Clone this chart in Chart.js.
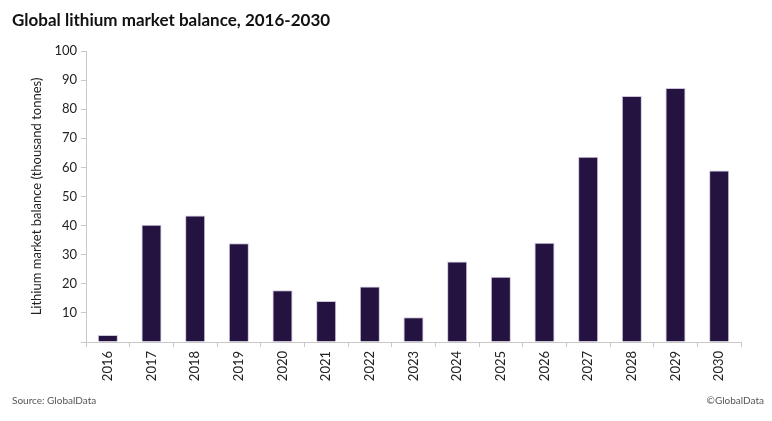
<!DOCTYPE html>
<html>
<head>
<meta charset="utf-8">
<script src="https://cdn.jsdelivr.net/npm/chart.js@4.4.1/dist/chart.umd.min.js"></script>
<style>
  body { margin: 0; background: #fff; }
  #wrap { position: relative; width: 772px; height: 421px; }
  #title { position: absolute; left: 12px; top: 9px; font: bold 17px Lato, "Open Sans", sans-serif; color: #111; }
  .note { position: absolute; top: 394px; font: 10px Lato, "Open Sans", sans-serif; color: #555; }
  canvas { position: absolute; left: 0; top: 0; }
</style>
</head>
<body>
<div id="wrap">
  <canvas id="chart" width="772" height="421"></canvas>
  <div id="title">Global lithium market balance, 2016-2030</div>
  <div class="note" style="left:12px">Source: GlobalData</div>
  <div class="note" style="right:8px">©GlobalData</div>
</div>
<script>
// years on the x axis
const years = ['2016','2017','2018','2019','2020','2021','2022','2023','2024','2025','2026','2027','2028','2029','2030'];
// market balance, thousand tonnes
const balance = [2.4, 40.3, 43.5, 33.9, 17.8, 14.1, 19.1, 8.5, 27.7, 22.4, 34.1, 63.7, 84.5, 87.3, 58.9];
const yTicks = [10, 20, 30, 40, 50, 60, 70, 80, 90, 100];

const axisFont = { family: 'Lato, "Open Sans", sans-serif', size: 13 };

new Chart(document.getElementById('chart'), {
    type: 'bar',
    data: {
        labels: years,
        datasets: [{
            data: balance,
            backgroundColor: '#241340',
            borderColor: '#cfc6dc',
            borderWidth: 1,
            categoryPercentage: 1,
            barPercentage: 0.46
        }]
    },
    options: {
        responsive: false,
        animation: false,
        layout: { padding: { left: 25, top: 51, right: 31, bottom: 34 } },
        plugins: { legend: { display: false }, tooltip: { enabled: false } },
        scales: {
            x: {
                grid: { drawOnChartArea: false, drawTicks: true, tickLength: 5, color: '#c8c8c8' },
                border: { color: '#c8c8c8' },
                ticks: { minRotation: 90, maxRotation: 90, color: '#222', font: axisFont, padding: 4 },
                afterFit: function(scale) { scale.height = 45; }
            },
            y: {
                min: 0,
                max: 100,
                afterBuildTicks: function(scale) { scale.ticks = [0].concat(yTicks).map(v => ({ value: v })); },
                grid: { drawOnChartArea: false, drawTicks: true, tickLength: 5, color: '#c8c8c8' },
                border: { color: '#c8c8c8' },
                ticks: { color: '#222', font: axisFont, padding: 4,
                    callback: function(v) { return v === 0 ? '' : v; } },
                title: { display: true, text: 'Lithium market balance (thousand tonnes)', color: '#222', font: axisFont, padding: 4 },
                afterFit: function(scale) { scale.width = 61; }
            }
        }
    }
});
</script>
</body>
</html>
